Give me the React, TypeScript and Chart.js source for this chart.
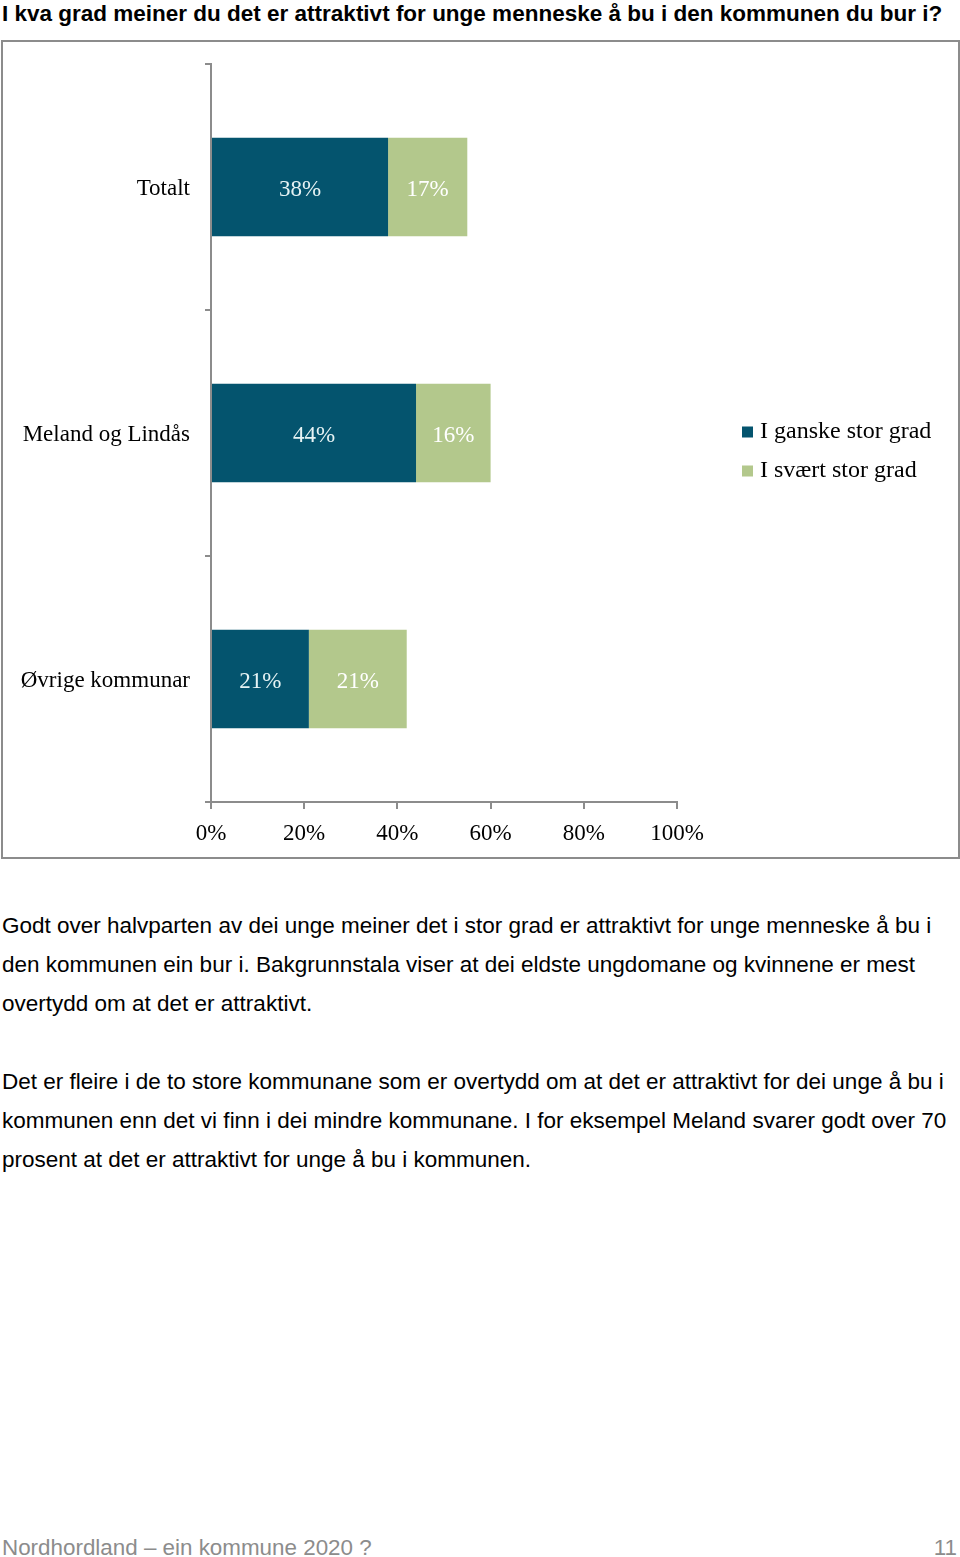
import React, { useEffect, useRef } from "react";
import { Chart, registerables } from "chart.js";

Chart.register(...registerables);

const titleText = "I kva grad meiner du det er attraktivt for unge menneske å bu i den kommunen du bur i?";
const categories = ["Totalt", "Meland og Lindås", "Øvrige kommunar"];
const seriesNames = ["I ganske stor grad", "I svært stor grad"];
const ganskeStor = [38, 44, 21];
const svaertStor = [17, 16, 21];
const seriesColors = ["#04546e", "#b3c88c"];
const labelColors = ["#e6f3f4", "#ffffff"];
const xMin = 0;
const xMax = 100;
const xStep = 20;

const para1 = [
  "Godt over halvparten av dei unge meiner det i stor grad er attraktivt for unge menneske å bu i",
  "den kommunen ein bur i. Bakgrunnstala viser at dei eldste ungdomane og kvinnene er mest",
  "overtydd om at det er attraktivt.",
];
const para2 = [
  "Det er fleire i de to store kommunane som er overtydd om at det er attraktivt for dei unge å bu i",
  "kommunen enn det vi finn i dei mindre kommunane. I for eksempel Meland svarer godt over 70",
  "prosent at det er attraktivt for unge å bu i kommunen.",
];
const footerLeft = "Nordhordland – ein kommune 2020 ?";
const footerRight = "11";

const SERIF = '"Liberation Serif", "Times New Roman", serif';
const SANS = '"Liberation Sans", Arial, sans-serif';
const FS = 23;
const LFS = 24;

export default function App() {
  const canvasRef = useRef<HTMLCanvasElement | null>(null);

  useEffect(() => {
    document.body.style.margin = "0";
    const canvas = canvasRef.current;
    if (!canvas) return;

    const mctx = document.createElement("canvas").getContext("2d")!;
    mctx.font = `${LFS}px ${SERIF}`;
    const textW = Math.max(...seriesNames.map((s) => mctx.measureText(s).width));
    const legendPad = 15;
    const legendLeft = 729;
    const legendW = 1 + LFS / 2 + textW + legendPad + 10;
    const padRight = Math.max(0, 955 - legendLeft - legendW);

    const seriesValues = [ganskeStor, svaertStor];

    const barLabels = {
      id: "barLabels",
      afterDatasetsDraw(chart: any) {
        const ctx = chart.ctx;
        ctx.save();
        ctx.font = `${FS}px ${SERIF}`;
        ctx.textAlign = "center";
        ctx.textBaseline = "middle";
        chart.data.datasets.forEach((ds: any, i: number) => {
          const meta = chart.getDatasetMeta(i);
          meta.data.forEach((bar: any, j: number) => {
            const p = bar.getCenterPoint();
            ctx.fillStyle = labelColors[i];
            ctx.fillText(`${ds.data[j]}%`, p.x, p.y + 3);
          });
        });
        ctx.restore();
      },
    };

    const noPad = (s: any) => {
      s.paddingTop = 0;
      s.paddingBottom = 0;
    };

    const chart = new Chart(canvas, {
      type: "bar",
      data: {
        labels: categories,
        datasets: seriesNames.map((name, i) => ({
          label: name,
          data: seriesValues[i],
          backgroundColor: seriesColors[i],
          borderWidth: 0,
          barPercentage: 0.4,
          categoryPercentage: 1,
        })),
      },
      options: {
        indexAxis: "y",
        animation: false,
        responsive: true,
        maintainAspectRatio: false,
        layout: { padding: { left: 0, top: 4, bottom: 0, right: padRight } },
        plugins: {
          tooltip: { enabled: false },
          legend: {
            position: "right",
            align: "center",
            maxWidth: 400,
            labels: {
              usePointStyle: true,
              pointStyle: "rect",
              boxWidth: 1,
              boxHeight: 11,
              padding: legendPad,
              color: "#000",
              font: { family: SERIF, size: LFS },
            },
          },
        },
        scales: {
          x: {
            type: "linear",
            stacked: true,
            min: xMin,
            max: xMax,
            position: "bottom",
            grid: { drawOnChartArea: false, drawTicks: true, tickLength: 7, color: "#8c8c8c", lineWidth: 2 },
            border: { display: true, color: "#8c8c8c", width: 2 },
            ticks: {
              stepSize: xStep,
              padding: 11,
              color: "#000",
              font: { family: SERIF, size: FS },
              callback: (v: any) => `${v}%`,
            },
            afterFit: (s: any) => {
              s.height = 55;
            },
          },
          y: {
            type: "category",
            stacked: true,
            offset: true,
            grid: { offset: true, drawOnChartArea: false, drawTicks: true, tickLength: 6, color: "#8c8c8c", lineWidth: 2 },
            border: { display: true, color: "#8c8c8c", width: 2 },
            ticks: { padding: 15, labelOffset: 2, color: "#000", font: { family: SERIF, size: FS } },
            afterFit: (s: any) => {
              s.width = 208;
              noPad(s);
            },
          },
          yRight: {
            type: "linear",
            position: "right",
            display: true,
            grid: { display: false },
            border: { display: false },
            ticks: { display: false },
            afterFit: (s: any) => {
              s.width = 55;
              noPad(s);
            },
          },
          xTop: {
            type: "linear",
            position: "top",
            display: true,
            grid: { display: false },
            border: { display: false },
            ticks: { display: false },
            afterFit: (s: any) => {
              s.height = 18;
              s.paddingLeft = 0;
              s.paddingRight = 0;
            },
          },
        },
      } as any,
      plugins: [barLabels],
    });
    return () => chart.destroy();
  }, []);

  const textLine = (t: string, top: number, key: string) => (
    <div
      key={key}
      style={{
        position: "absolute",
        left: 2,
        top,
        whiteSpace: "nowrap",
        font: `22.5px ${SANS}`,
        lineHeight: "39px",
        color: "#000",
      }}
    >
      {t}
    </div>
  );

  return (
    <div style={{ position: "relative", width: 960, height: 1557, overflow: "hidden", background: "#fff" }}>
      <div
        style={{
          position: "absolute",
          left: 2,
          top: 0,
          whiteSpace: "nowrap",
          font: `bold 22.5px ${SANS}`,
          lineHeight: "27px",
          color: "#000",
        }}
      >
        {titleText}
      </div>
      <div
        style={{
          position: "absolute",
          left: 1,
          top: 40,
          width: 959,
          height: 819,
          boxSizing: "border-box",
          border: "2px solid #8c8c8c",
        }}
      >
        <div style={{ position: "relative", width: 955, height: 815 }}>
          <canvas ref={canvasRef} />
        </div>
      </div>
      {para1.map((t, i) => textLine(t, 906 + i * 39, "a" + i))}
      {para2.map((t, i) => textLine(t, 1062 + i * 39, "b" + i))}
      <div
        style={{
          position: "absolute",
          left: 2,
          top: 1535,
          whiteSpace: "nowrap",
          font: `22.4px ${SANS}`,
          lineHeight: "26px",
          color: "#8c8c8c",
        }}
      >
        {footerLeft}
      </div>
      <div
        style={{
          position: "absolute",
          right: 3,
          top: 1535,
          whiteSpace: "nowrap",
          font: `22.4px ${SANS}`,
          lineHeight: "26px",
          color: "#8c8c8c",
        }}
      >
        {footerRight}
      </div>
    </div>
  );
}
